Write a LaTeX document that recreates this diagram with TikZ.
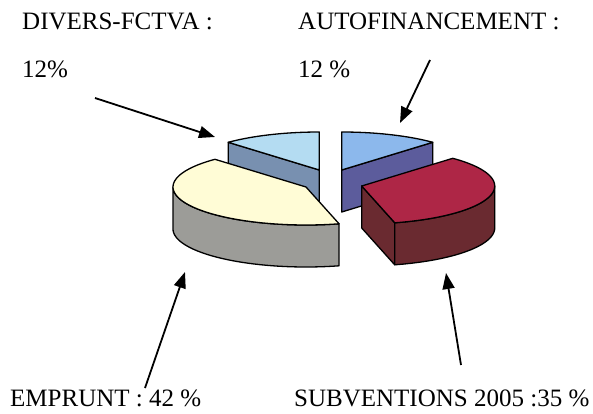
\documentclass[tikz,border=0pt]{standalone}
\usepackage{fontspec}
\setmainfont{Liberation Serif}
\usetikzlibrary{arrows.meta}
\definecolor{diverstop}{HTML}{B4DCF2}
\definecolor{diversside}{HTML}{7890B0}
\definecolor{autotop}{HTML}{8CB8EC}
\definecolor{autoside}{HTML}{5C5C9C}
\definecolor{emptop}{HTML}{FFFCD6}
\definecolor{empside}{HTML}{9C9C98}
\definecolor{subvtop}{HTML}{AE2646}
\definecolor{subvside}{HTML}{6A2A30}

\begin{document}
\begin{tikzpicture}[x=1pt,y=-1pt,>={Triangle[length=16pt,width=12pt]},
		lbl/.style={anchor=base west,inner sep=0pt,font=\fontsize{25}{30}\selectfont},
		face/.style={draw=black,line width=1.3pt,line join=round},
		pointer/.style={->,line width=1.8pt}]
		\useasboundingbox (0,0) rectangle (593,414);
		
		% labels
		\node[lbl] (divlbl)  at (22,30)   {DIVERS-FCTVA :};
		\node[lbl] (divpct)  at (22,78)   {12\%};
		\node[lbl] (autolbl) at (298,30)  {AUTOFINANCEMENT :};
		\node[lbl] (autopct) at (298,78)  {12 \%};
		\node[lbl] (emplbl)  at (10,406)  {EMPRUNT : 42 \%};
		\node[lbl] (subvlbl) at (294,406) {SUBVENTIONS 2005 :35 \%};
		
		% divers-fctva slice
		\fill[diversside,face] (319.3,170) -- (228.2,142.3) -- (228.2,184.3) -- (319.3,212) -- cycle;
		\fill[diverstop,face] (319.3,170) -- plot[domain=90:133.2,samples=20] ({319.3+133*cos(\x)},{170-38*sin(\x)}) -- cycle;
		
		% autofinancement slice
		\fill[autoside,face] (341.7,170) -- (432.8,142.3) -- (432.8,184.3) -- (341.7,212) -- cycle;
		\fill[autotop,face] (341.7,170) -- plot[domain=46.8:90,samples=20] ({341.7+133*cos(\x)},{170-38*sin(\x)}) -- cycle;
		
		% emprunt slice
		\fill[empside,face] plot[domain=180:284.4,samples=40] ({306+133*cos(\x)},{187-38*sin(\x)})
			-- plot[domain=284.4:180,samples=40] ({306+133*cos(\x)},{229-38*sin(\x)}) -- cycle;
		\fill[emptop,face] (306,187) -- plot[domain=133.2:284.4,samples=60] ({306+133*cos(\x)},{187-38*sin(\x)}) -- cycle;
		
		% subventions slice
		\fill[subvside,face] (361.7,186) -- (394.7,222.8) -- (394.7,264.8) -- (361.7,228) -- cycle;
		\fill[subvside,face] plot[domain=-75.6:0,samples=40] ({361.7+133*cos(\x)},{186-38*sin(\x)})
			-- plot[domain=0:-75.6,samples=40] ({361.7+133*cos(\x)},{228-38*sin(\x)}) -- cycle;
		\fill[subvtop,face] (361.7,186) -- plot[domain=-75.6:46.8,samples=60] ({361.7+133*cos(\x)},{186-38*sin(\x)}) -- cycle;
		
		% pointers
		\coordinate (divtail)  at (95,98);
		\coordinate (divtip)   at (215,137);
		\coordinate (autotail) at (430,60);
		\coordinate (autotip)  at (400,123);
		\coordinate (emptail)  at (145,388);
		\coordinate (emptip)   at (185,272);
		\coordinate (subvtail) at (461,365);
		\coordinate (subvtip)  at (446,273);
		\draw[pointer] (divtail) -- (divtip);
		\draw[pointer] (autotail) -- (autotip);
		\draw[pointer] (emptail) -- (emptip);
		\draw[pointer] (subvtail) -- (subvtip);
\end{tikzpicture}
\end{document}
